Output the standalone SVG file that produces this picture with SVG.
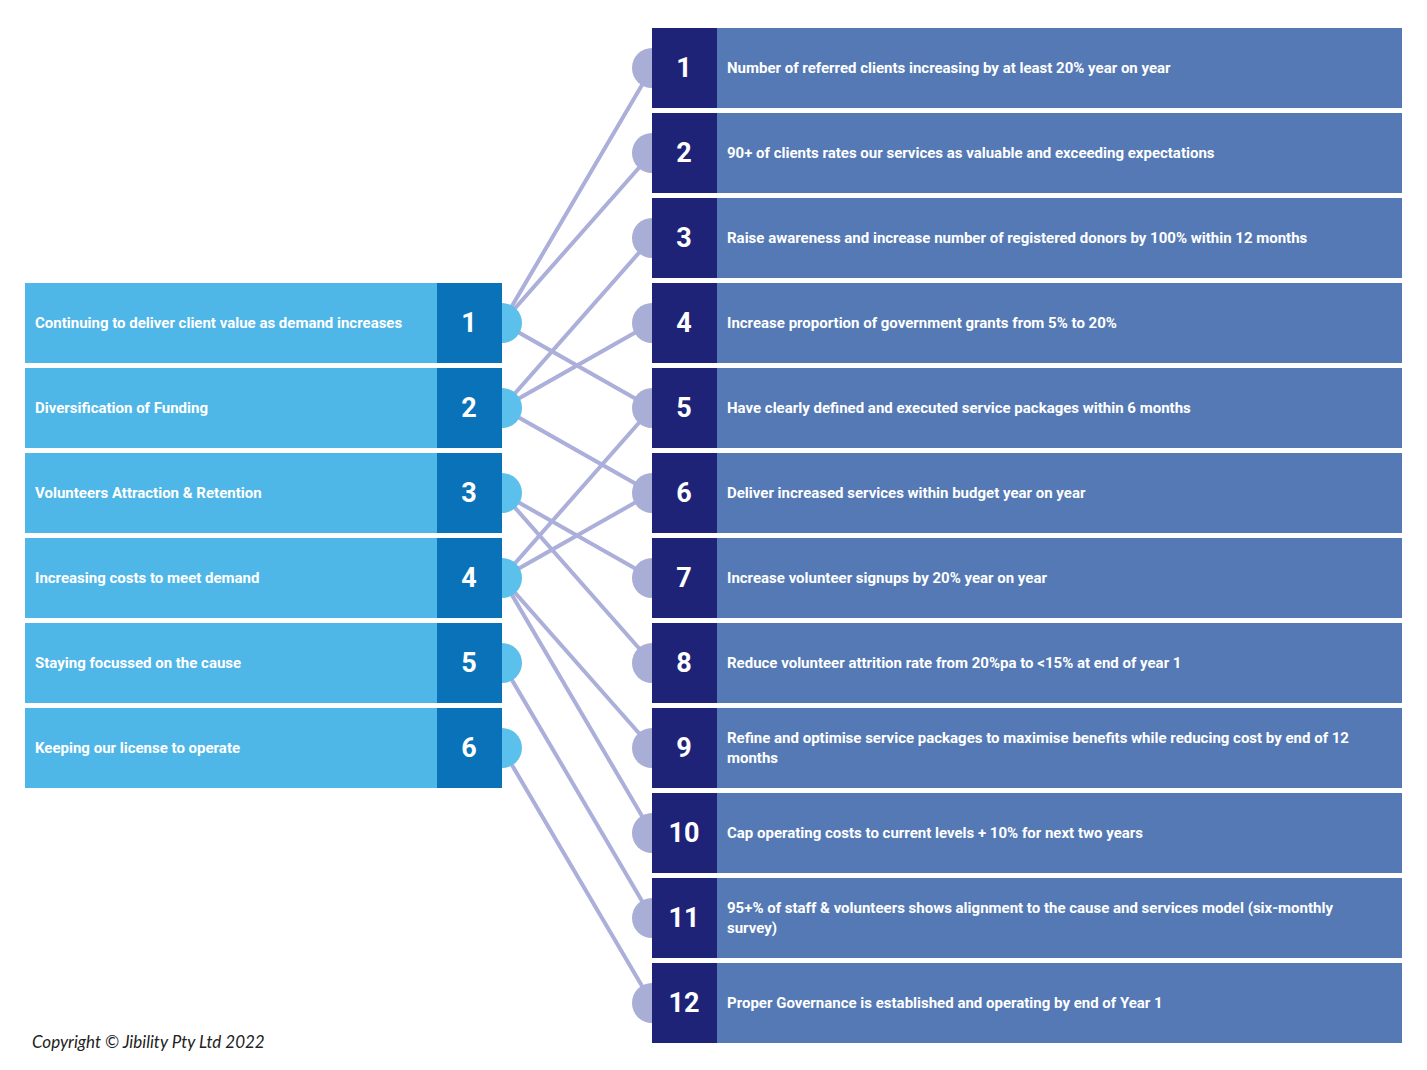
<svg xmlns="http://www.w3.org/2000/svg" width="1427" height="1070" viewBox="0 0 1427 1070">
<style>
.lb{fill:#4FB6E8}.ln{fill:#0A72B8}.lc{fill:#5CC0EC}
.rc{fill:#A9AED6}.rn{fill:#1E2378}.rb{fill:#5479B5}
.t{font-family:Roboto,"Liberation Sans",sans-serif;font-weight:bold;font-size:15px;fill:#fff}
.n{font-family:Roboto,"Liberation Sans",sans-serif;font-weight:bold;font-size:27px;fill:#fff;text-anchor:middle}
.c line{stroke:#ABAFD9;stroke-width:4}
</style>
<rect width="1427" height="1070" fill="#fff"/>
<g class="c" id="connectors">
<line x1="502" y1="323" x2="652" y2="68"/><line x1="502" y1="323" x2="652" y2="153"/><line x1="502" y1="323" x2="652" y2="408"/>
<line x1="502" y1="408" x2="652" y2="238"/><line x1="502" y1="408" x2="652" y2="323"/><line x1="502" y1="408" x2="652" y2="493"/>
<line x1="502" y1="493" x2="652" y2="578"/><line x1="502" y1="493" x2="652" y2="663"/>
<line x1="502" y1="578" x2="652" y2="408"/><line x1="502" y1="578" x2="652" y2="493"/><line x1="502" y1="578" x2="652" y2="748"/><line x1="502" y1="578" x2="652" y2="833"/>
<line x1="502" y1="663" x2="652" y2="918"/><line x1="502" y1="748" x2="652" y2="1003"/>
</g>
<g id="L1"><circle class="lc" cx="502" cy="323" r="20"/><rect class="lb" x="25" y="283" width="412" height="80"/><rect class="ln" x="437" y="283" width="65" height="80"/><text class="t" x="35" y="328">Continuing to deliver client value as demand increases</text><text class="n" x="469" y="332">1</text></g>
<g id="L2"><circle class="lc" cx="502" cy="408" r="20"/><rect class="lb" x="25" y="368" width="412" height="80"/><rect class="ln" x="437" y="368" width="65" height="80"/><text class="t" x="35" y="413">Diversification of Funding</text><text class="n" x="469" y="417">2</text></g>
<g id="L3"><circle class="lc" cx="502" cy="493" r="20"/><rect class="lb" x="25" y="453" width="412" height="80"/><rect class="ln" x="437" y="453" width="65" height="80"/><text class="t" x="35" y="498">Volunteers Attraction &amp; Retention</text><text class="n" x="469" y="502">3</text></g>
<g id="L4"><circle class="lc" cx="502" cy="578" r="20"/><rect class="lb" x="25" y="538" width="412" height="80"/><rect class="ln" x="437" y="538" width="65" height="80"/><text class="t" x="35" y="583">Increasing costs to meet demand</text><text class="n" x="469" y="587">4</text></g>
<g id="L5"><circle class="lc" cx="502" cy="663" r="20"/><rect class="lb" x="25" y="623" width="412" height="80"/><rect class="ln" x="437" y="623" width="65" height="80"/><text class="t" x="35" y="668">Staying focussed on the cause</text><text class="n" x="469" y="672">5</text></g>
<g id="L6"><circle class="lc" cx="502" cy="748" r="20"/><rect class="lb" x="25" y="708" width="412" height="80"/><rect class="ln" x="437" y="708" width="65" height="80"/><text class="t" x="35" y="753">Keeping our license to operate</text><text class="n" x="469" y="757">6</text></g>

<g id="R1"><circle class="rc" cx="652" cy="68" r="20"/><rect class="rn" x="652" y="28" width="65" height="80"/><rect class="rb" x="717" y="28" width="685" height="80"/><text class="n" x="684" y="77">1</text><text class="t" x="727" y="73">Number of referred clients increasing by at least 20% year on year</text></g>
<g id="R2"><circle class="rc" cx="652" cy="153" r="20"/><rect class="rn" x="652" y="113" width="65" height="80"/><rect class="rb" x="717" y="113" width="685" height="80"/><text class="n" x="684" y="162">2</text><text class="t" x="727" y="158">90+ of clients rates our services as valuable and exceeding expectations</text></g>
<g id="R3"><circle class="rc" cx="652" cy="238" r="20"/><rect class="rn" x="652" y="198" width="65" height="80"/><rect class="rb" x="717" y="198" width="685" height="80"/><text class="n" x="684" y="247">3</text><text class="t" x="727" y="243">Raise awareness and increase number of registered donors by 100% within 12 months</text></g>
<g id="R4"><circle class="rc" cx="652" cy="323" r="20"/><rect class="rn" x="652" y="283" width="65" height="80"/><rect class="rb" x="717" y="283" width="685" height="80"/><text class="n" x="684" y="332">4</text><text class="t" x="727" y="328">Increase proportion of government grants from 5% to 20%</text></g>
<g id="R5"><circle class="rc" cx="652" cy="408" r="20"/><rect class="rn" x="652" y="368" width="65" height="80"/><rect class="rb" x="717" y="368" width="685" height="80"/><text class="n" x="684" y="417">5</text><text class="t" x="727" y="413">Have clearly defined and executed service packages within 6 months</text></g>
<g id="R6"><circle class="rc" cx="652" cy="493" r="20"/><rect class="rn" x="652" y="453" width="65" height="80"/><rect class="rb" x="717" y="453" width="685" height="80"/><text class="n" x="684" y="502">6</text><text class="t" x="727" y="498">Deliver increased services within budget year on year</text></g>
<g id="R7"><circle class="rc" cx="652" cy="578" r="20"/><rect class="rn" x="652" y="538" width="65" height="80"/><rect class="rb" x="717" y="538" width="685" height="80"/><text class="n" x="684" y="587">7</text><text class="t" x="727" y="583">Increase volunteer signups by 20% year on year</text></g>
<g id="R8"><circle class="rc" cx="652" cy="663" r="20"/><rect class="rn" x="652" y="623" width="65" height="80"/><rect class="rb" x="717" y="623" width="685" height="80"/><text class="n" x="684" y="672">8</text><text class="t" x="727" y="668">Reduce volunteer attrition rate from 20%pa to &lt;15% at end of year 1</text></g>
<g id="R9"><circle class="rc" cx="652" cy="748" r="20"/><rect class="rn" x="652" y="708" width="65" height="80"/><rect class="rb" x="717" y="708" width="685" height="80"/><text class="n" x="684" y="757">9</text><text class="t" x="727" y="743">Refine and optimise service packages to maximise benefits while reducing cost by end of 12</text><text class="t" x="727" y="763">months</text></g>
<g id="R10"><circle class="rc" cx="652" cy="833" r="20"/><rect class="rn" x="652" y="793" width="65" height="80"/><rect class="rb" x="717" y="793" width="685" height="80"/><text class="n" x="684" y="842">10</text><text class="t" x="727" y="838">Cap operating costs to current levels + 10% for next two years</text></g>
<g id="R11"><circle class="rc" cx="652" cy="918" r="20"/><rect class="rn" x="652" y="878" width="65" height="80"/><rect class="rb" x="717" y="878" width="685" height="80"/><text class="n" x="684" y="927">11</text><text class="t" x="727" y="913">95+% of staff &amp; volunteers shows alignment to the cause and services model (six-monthly</text><text class="t" x="727" y="933">survey)</text></g>
<g id="R12"><circle class="rc" cx="652" cy="1003" r="20"/><rect class="rn" x="652" y="963" width="65" height="80"/><rect class="rb" x="717" y="963" width="685" height="80"/><text class="n" x="684" y="1012">12</text><text class="t" x="727" y="1008">Proper Governance is established and operating by end of Year 1</text></g>
<text x="32" y="1048" font-family="Lato,'Liberation Sans',sans-serif" font-style="italic" font-size="17" fill="#222">Copyright © Jibility Pty Ltd 2022</text>
</svg>
